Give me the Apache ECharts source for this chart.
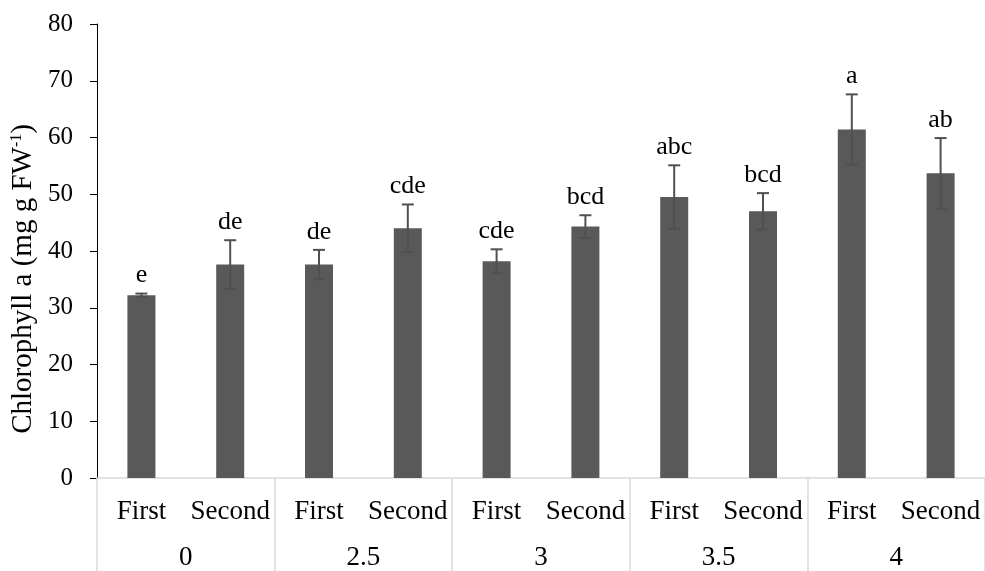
<!DOCTYPE html>
<html>
<head>
<meta charset="utf-8">
<script src="https://cdn.jsdelivr.net/npm/echarts@6/dist/echarts.min.js"></script>
<style>
  html, body { margin: 0; padding: 0; background: #fff; }
  #chart { width: 985px; height: 571px; }
</style>
</head>
<body>
<div id="chart"></div>
<script>
// data
const doses = ['0', '2.5', '3', '3.5', '4']
const stages = ['First', 'Second']
const chlA = [32.2, 37.6, 37.6, 44.0, 38.2, 44.3, 49.5, 47.0, 61.4, 53.7]
const chlErr = [0.3, 4.3, 2.6, 4.2, 2.1, 2.0, 5.6, 3.2, 6.2, 6.2]
const letters = ['e', 'de', 'de', 'cde', 'cde', 'bcd', 'abc', 'bcd', 'a', 'ab']
const yTicks = { min: 0, max: 80, interval: 10 }

const font = "'Liberation Serif', 'Times New Roman', serif"
const barColor = '#595959'
const gridGray = '#d9d9d9'

// one category per bar: First/Second repeated under each dose
const barCats = []
doses.forEach(() => stages.forEach((s) => barCats.push(s)))

const errData = chlA.map((v, i) => [i, v, chlErr[i]])

const renderErr = (params, api) => {
  const i = api.value(0)
  const v = api.value(1)
  const e = api.value(2)
  const top = api.coord([i, v + e])
  const bot = api.coord([i, v - e])
  const cap = 6
  const style = { stroke: '#505050', lineWidth: 2 }
  return {
    type: 'group',
    children: [
      { type: 'line', shape: { x1: top[0], y1: top[1], x2: bot[0], y2: bot[1] }, style },
      { type: 'line', shape: { x1: top[0] - cap, y1: top[1], x2: top[0] + cap, y2: top[1] }, style },
      { type: 'line', shape: { x1: bot[0] - cap, y1: bot[1], x2: bot[0] + cap, y2: bot[1] }, style },
      {
        type: 'text',
        x: top[0],
        y: top[1] - 5,
        style: {
          text: letters[params.dataIndex],
          fill: '#000',
          font: '26px ' + font,
          align: 'center',
          verticalAlign: 'bottom'
        }
      }
    ]
  }
}

const option = {
  animation: false,
  backgroundColor: '#fff',
  grid: { left: 97, top: 24, width: 895, height: 456, containLabel: false },
  xAxis: [
    {
      type: 'category',
      data: barCats,
      axisLine: { show: true, lineStyle: { color: gridGray, width: 1.5 } },
      axisTick: { show: false },
      axisLabel: { color: '#000', fontSize: 27, fontFamily: font, margin: 20, interval: 0 }
    },
    {
      type: 'category',
      data: doses,
      position: 'bottom',
      axisLine: { show: false },
      axisTick: { show: true, length: 95, interval: 0, lineStyle: { color: gridGray, width: 1.5 } },
      axisLabel: { color: '#000', fontSize: 27, fontFamily: font, margin: 66, interval: 0 }
    }
  ],
  yAxis: {
    type: 'value',
    min: yTicks.min,
    max: yTicks.max,
    interval: yTicks.interval,
    axisLine: { show: true, lineStyle: { color: '#000', width: 1 } },
    axisTick: { show: true, length: 7, lineStyle: { color: '#000' } },
    splitLine: { show: false },
    axisLabel: { color: '#000', fontSize: 25, fontFamily: font, margin: 24 }
  },
  graphic: [
    {
      type: 'text',
      x: 23,
      y: 279,
      rotation: Math.PI / 2,
      style: {
        text: '{n|Chlorophyll a (mg g FW}{s|-1}{n|)}',
        align: 'center',
        verticalAlign: 'middle',
        rich: {
          n: { fontSize: 29, fontFamily: font, fill: '#000' },
          s: { fontSize: 16, fontFamily: font, fill: '#000', verticalAlign: 'top', padding: [0, 0, 12, 0] }
        }
      }
    }
  ],
  series: [
    {
      type: 'bar',
      data: chlA,
      barWidth: 28,
      itemStyle: { color: barColor },
      z: 2
    },
    {
      type: 'custom',
      data: errData,
      renderItem: renderErr,
      z: 3
    }
  ]
}

const myChart = echarts.init(document.getElementById('chart'))
myChart.setOption(option)
</script>
</body>
</html>
